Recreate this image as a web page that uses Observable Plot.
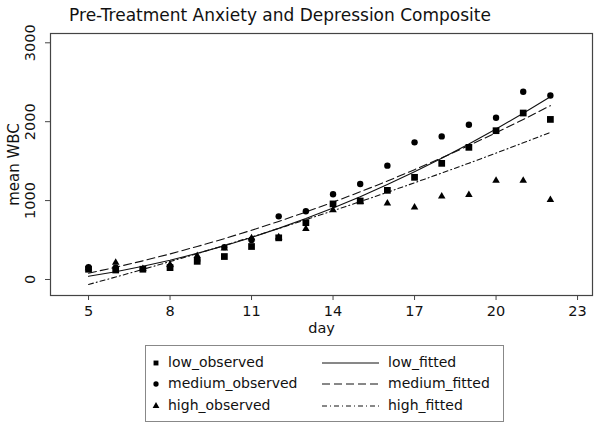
<!DOCTYPE html>
<html>
<head>
<meta charset="utf-8">
<script src="https://cdn.jsdelivr.net/npm/d3@7"></script>
<script src="https://cdn.jsdelivr.net/npm/@observablehq/plot@0.6"></script>
<style>
  body { margin: 0; background: #fff; font-family: "DejaVu Sans", sans-serif; }
  #wrap { position: relative; width: 601px; height: 427px; background: #fff; overflow: hidden; }
  #chart { position: absolute; left: 0; top: 0; }
  #title { position: absolute; left: 0; top: 5px; width: 560px; text-align: center; font-size: 17px; color: #111; white-space: nowrap; }
  #legend { position: absolute; left: 145px; top: 345px; width: 359px; height: 77px; border: 1px solid #888; box-sizing: border-box; }
  .lab { position: absolute; font-size: 14px; color: #111; white-space: nowrap; line-height: 18px; }
  .sym { position: absolute; }
</style>
</head>
<body>
<div id="wrap">
  <div id="chart"></div>
  <div id="title">Pre-Treatment Anxiety and Depression Composite</div>
  <div id="legend"></div>
</div>
<script>
// ---- data ----
const days = [5, 6, 7, 8, 9, 10, 11, 12, 13, 14, 15, 16, 17, 18, 19, 20, 21, 22];
const lowObserved    = [130, 120, 130, 150, 230, 291, 418, 528, 720, 958, 995, 1130, 1295, 1472, 1675, 1886, 2110, 2029];
const mediumObserved = [155, 150, 135, 165, 240, 410, 500, 800, 865, 1080, 1211, 1443, 1738, 1814, 1962, 2051, 2380, 2333];
const highObserved   = [145, 215, 135, 190, 300, 395, 525, 536, 641, 880, 985, 966, 915, 1055, 1072, 1253, 1253, 1009];
const lowFitted      = [40, 99, 167, 244, 331, 428, 533, 648, 773, 907, 1050, 1203, 1365, 1536, 1717, 1908, 2107, 2316];
const mediumFitted   = [80, 155, 236, 324, 418, 518, 624, 736, 855, 980, 1111, 1248, 1392, 1542, 1698, 1860, 2028, 2203];
const highFitted     = [-63, 31, 128, 227, 328, 432, 538, 647, 758, 871, 987, 1105, 1226, 1349, 1474, 1602, 1732, 1865];
const xTicks = [5, 8, 11, 14, 17, 20, 23];
const yTicks = [0, 1000, 2000, 3000];
const seriesNames = ["low", "medium", "high"];
const symbols = ["square", "circle", "triangle"];
const dashes = [null, "8,4", "5,3,1,3"];

const observed = [lowObserved, mediumObserved, highObserved];
const fitted = [lowFitted, mediumFitted, highFitted];
const symR = [3.8, 3.2, 2.8];

const fontFam = '"DejaVu Sans", sans-serif';

const marks = [];
fitted.forEach((vals, i) => {
  marks.push(Plot.line(vals, {x: days, y: vals, stroke: "#111", strokeWidth: 1.1, strokeDasharray: dashes[i] || undefined}));
});
observed.forEach((vals, i) => {
  marks.push(Plot.dot(vals, {x: days, y: vals, symbol: symbols[i], r: symR[i], fill: "#000", stroke: "none"}));
});
marks.push(Plot.frame({stroke: "#444", strokeWidth: 1.2}));
marks.push(Plot.axisX({ticks: xTicks, tickSize: 5, tickPadding: 5, fontSize: 14.5, label: null, stroke: "#444"}));
marks.push(Plot.axisY({ticks: yTicks, tickSize: 5, tickFormat: () => "", label: null, stroke: "#444"}));
marks.push(Plot.text(yTicks, {y: d => d, text: d => String(d), frameAnchor: "left", dx: -20, rotate: -90, textAnchor: "middle", fontSize: 14.5, fill: "#111"}));
marks.push(Plot.text(["day"], {frameAnchor: "bottom", dy: 37, text: d => d, textAnchor: "middle", fontSize: 14.5, fill: "#111"}));
marks.push(Plot.text(["mean WBC"], {frameAnchor: "left", dx: -36, rotate: -90, textAnchor: "middle", text: d => d, fontSize: 15, fill: "#111"}));

const plot = Plot.plot({
  width: 601,
  height: 345,
  marginLeft: 50,
  marginRight: 9,
  marginTop: 33,
  marginBottom: 50,
  style: {fontFamily: fontFam, fontSize: "14.5px", color: "#111", background: "#fff", overflow: "visible"},
  x: {domain: [3.6, 23.55]},
  y: {domain: [-203, 3118]},
  marks
});
document.getElementById("chart").appendChild(plot);

// ---- legend ----
const legend = document.getElementById("legend");
const rowY = [17, 38, 60];
const svgNS = "http://www.w3.org/2000/svg";
seriesNames.forEach((name, i) => {
  const s = document.createElementNS(svgNS, "svg");
  s.setAttribute("class", "sym");
  s.setAttribute("width", 12); s.setAttribute("height", 12);
  s.style.left = "4px"; s.style.top = (rowY[i] - 6) + "px";
  const p = document.createElementNS(svgNS, "path");
  const sym = {square: d3.symbolSquare, circle: d3.symbolCircle, triangle: d3.symbolTriangle}[symbols[i]];
  p.setAttribute("d", d3.symbol(sym, [24, 22, 20][i])());
  p.setAttribute("transform", "translate(6,6)");
  p.setAttribute("fill", "#000");
  s.appendChild(p);
  legend.appendChild(s);
  const t1 = document.createElement("div");
  t1.className = "lab"; t1.textContent = name + "_observed";
  t1.style.left = "22px"; t1.style.top = (rowY[i] - 10) + "px";
  legend.appendChild(t1);
  const s2 = document.createElementNS(svgNS, "svg");
  s2.setAttribute("class", "sym");
  s2.setAttribute("width", 60); s2.setAttribute("height", 6);
  s2.style.left = "175px"; s2.style.top = (rowY[i] - 3) + "px";
  const l = document.createElementNS(svgNS, "line");
  l.setAttribute("x1", 1); l.setAttribute("x2", 58); l.setAttribute("y1", 3); l.setAttribute("y2", 3);
  l.setAttribute("stroke", "#111"); l.setAttribute("stroke-width", 1);
  if (dashes[i]) l.setAttribute("stroke-dasharray", dashes[i]);
  s2.appendChild(l);
  legend.appendChild(s2);
  const t2 = document.createElement("div");
  t2.className = "lab"; t2.textContent = name + "_fitted";
  t2.style.left = "242px"; t2.style.top = (rowY[i] - 10) + "px";
  legend.appendChild(t2);
});
</script>
</body>
</html>
